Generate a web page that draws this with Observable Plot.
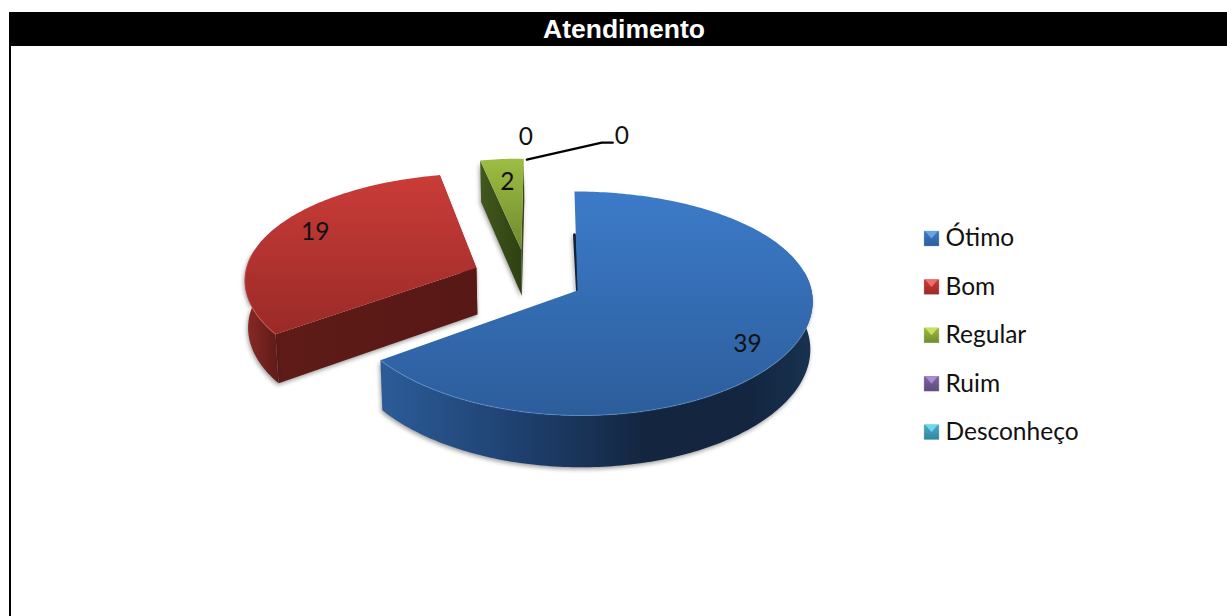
<!DOCTYPE html>
<html lang="pt">
<head>
<meta charset="utf-8">
<title>Atendimento</title>
<script src="https://cdn.jsdelivr.net/npm/d3@7"></script>
<script src="https://cdn.jsdelivr.net/npm/@observablehq/plot@0.6"></script>
<style>
  html, body { margin: 0; background: #fff; overflow: hidden; }
  #frame { margin: 12px 0 0 9px; width: 1218px; box-sizing: border-box; border-left: 2px solid #000; }
  #title { margin-left: -2px; height: 34px; background: #000; color: #fff; text-align: center;
           font: bold 26.5px/35px "Liberation Sans", Arial, sans-serif; padding-left: 12px; box-sizing: border-box; }
  svg { display: block; }
</style>
</head>
<body>
<div id="frame">
  <div id="title">Atendimento</div>
  <div id="chart"></div>
</div>
<script>
// Survey answers
const categories = ["Ótimo", "Bom", "Regular", "Ruim", "Desconheço"];
const values = [39, 19, 2, 0, 0];

// Face, wall and key colours per category
const faceStops = [["#3c7bc9", "#2c5d9b"], ["#ca3c38", "#9a2a27"], ["#9dbd42", "#6f8a2e"], ["#8064a2", "#5f4a7a"], ["#4bacc6", "#31859c"]];
const keyTips = ["#6ba3e0", "#ee6f6a", "#c8e060", "#a98bd0", "#6fd8ef"];

// Tilted disc: centre, radii and perspective strength
const centre = { x: 577, y: 290 };
const radius = { x: 234, y: 110.5 };
const perspective = { x: 0.085, y: 0.116 };
const thickness = 47.5;

// How each wedge is pulled out of the disc, and where its value label sits
const pull = [
  { u: 0, v: 0, lean: 3.4, labelR: 0.78, labelDx: 1, labelDy: 13 },
  { u: -0.44, v: -0.21, lean: 0, labelR: 0.72, labelDx: -12, labelDy: -9 },
  { u: -0.245, v: -0.385, lean: 2, labelR: 0.7, labelDx: 0, labelDy: -2 }
];

const FULL = d3.sum(values);
const rad = (deg) => (deg * Math.PI) / 180;

function project(u, v, lean, lower) {
  const sx = 1 / (1 - perspective.x * v);
  const sy = 1 / (1 - perspective.y * v);
  let x = centre.x + radius.x * u * sx + lean * v * sy;
  let y = centre.y + radius.y * v * sy;
  if (lower) {
    x = centre.x + (x - centre.x) * 0.99;
    y += thickness * (1 + 0.09 * v);
  }
  return { x, y };
}

// Point on a wedge at a clock angle (0 = twelve o'clock) and radial fraction
function wedgePoint(p, deg, r, lower = false) {
  return project(p.u + r * Math.sin(rad(deg)), p.v - r * Math.cos(rad(deg)), p.lean, lower);
}

function arc(p, from, to, lower = false) {
  const pts = [];
  const n = Math.max(2, Math.ceil(Math.abs(to - from)));
  for (let i = 0; i <= n; i++) pts.push(wedgePoint(p, from + ((to - from) * i) / n, 1, lower));
  return pts;
}

// Cumulative angles of the wedges
let running = 0;
const wedges = values.map((value, i) => {
  const a0 = (running / FULL) * 360;
  running += value;
  return { i, value, a0, a1: (running / FULL) * 360, p: pull[i] };
}).filter((d) => d.value > 0);

const face = (w) => [wedgePoint(w.p, 0, 0), ...arc(w.p, w.a0, w.a1)];
const edgeWall = (w, deg) => [wedgePoint(w.p, deg, 0), wedgePoint(w.p, deg, 1), wedgePoint(w.p, deg, 1, true), wedgePoint(w.p, deg, 0, true)];
const rimWall = (w) => {
  const from = Math.max(w.a0, 80), to = Math.min(w.a1, 280);
  return to > from ? [...arc(w.p, from, to), ...arc(w.p, to, from, true)] : null;
};

const xy = { x: "x", y: "y", curve: "linear-closed", stroke: "none" };
const shadow = "drop-shadow(-1px 2px 2px rgba(0,0,0,0.38))";

// Gradients shared by the faces, walls and key swatches
function gradients() {
  const defs = d3.create("svg:defs");
  const add = (id, horizontal, stops) => {
    const g = defs.append("linearGradient").attr("id", id)
      .attr("x1", 0).attr("y1", 0).attr("x2", horizontal ? 1 : 0).attr("y2", horizontal ? 0 : 1);
    stops.forEach(([o, c]) => g.append("stop").attr("offset", o).attr("stop-color", c));
  };
  faceStops.forEach((s, i) => add(`face${i}`, false, [[0, s[0]], [1, s[1]]]));
  add("rim0", true, [[0, "#2c5c98"], [0.3, "#1f4272"], [0.62, "#13253f"], [0.85, "#13253f"], [1, "#18324f"]]);
  add("rim1", true, [[0, "#8a2a26"], [1, "#5e1b18"]]);
  add("edge1", true, [[0, "#5e1b18"], [1, "#581815"]]);
  add("edge2", true, [[0, "#42581e"], [1, "#2e4012"]]);
  return defs.node();
}

const wedgeMarks = wedges.flatMap((w) => {
  const rim = rimWall(w);
  const marks = [];
  if (w.i === 0) {
    // Lower edge of the cut that peeks out beside the first wedge
    marks.push(Plot.line([wedgePoint(w.p, 0, 1, true), wedgePoint(w.p, 0, 0)], {
      x: "x", y: "y", stroke: "#12233c", strokeWidth: 3, imageFilter: shadow
    }));
  } else {
    marks.push(
      Plot.line(edgeWall(w, w.a1), { ...xy, fill: `url(#edge${w.i})`, imageFilter: shadow }),
      Plot.line(edgeWall(w, w.a0), { ...xy, fill: `url(#edge${w.i})`, imageFilter: shadow })
    );
  }
  if (rim) marks.push(Plot.line(rim, { ...xy, fill: `url(#rim${w.i})`, imageFilter: shadow }));
  marks.push(Plot.line(face(w), { ...xy, fill: `url(#face${w.i})` }));
  if (rim) {
    marks.push(Plot.line(arc(w.p, Math.max(w.a0, 110), Math.min(w.a1, 280)), {
      x: "x", y: "y", stroke: keyTips[w.i], strokeOpacity: 0.4, strokeWidth: 1.2
    }));
  }
  return marks;
});

// Value labels for the drawn wedges
const labelFont = { fontFamily: "Lato, sans-serif", fontSize: 24.5, fill: "#111" };
const wedgeLabels = wedges.map((w) => {
  const mid = (w.a0 + w.a1) / 2;
  const at = wedgePoint(w.p, mid, w.p.labelR);
  return { x: at.x + w.p.labelDx, y: at.y + w.p.labelDy, text: String(w.value) };
});

// Empty categories sit at the end of the pie, one of them on a leader line
const zeroAnchor = wedgePoint(pull[2], 360, 1);
const zeroValues = values.filter((v) => v === 0);
const leaderSteps = [[3, 1], [78, -16], [89, -16]];
const leader = leaderSteps.map(([dx, dy]) => ({ x: zeroAnchor.x + dx, y: zeroAnchor.y + dy }));
const zeroSteps = [[2, -21], [98, -22]];
const zeroLabels = zeroValues.map((v, i) => ({ x: zeroAnchor.x + zeroSteps[i][0], y: zeroAnchor.y + zeroSteps[i][1], text: String(v) }));

// Key on the right
const keyX = 931;
const keyY = (i) => 238 + i * 48.4;
const keyRows = categories.map((name, i) => ({ name, i, x: keyX, y: keyY(i) }));
const keyTip = (row) => [
  { x: row.x - 6.5, y: row.y - 7.5 },
  { x: row.x + 6.5, y: row.y - 7.5 },
  { x: row.x, y: row.y }
];

const keyMarks = keyRows.flatMap((row) => [
  Plot.dot([row], { x: "x", y: "y", symbol: "square", r: 8.6, fill: `url(#face${row.i})`, stroke: "#fff", strokeOpacity: 0.35, strokeWidth: 0.6 }),
  Plot.line(keyTip(row), { ...xy, fill: keyTips[row.i] })
]);

const chart = Plot.plot({
  width: 1216,
  height: 570,
  margin: 0,
  style: { background: "#fff", overflow: "visible" },
  x: { axis: null, domain: [11, 1227], range: [0, 1216] },
  y: { axis: null, domain: [46, 616], range: [0, 570] },
  marks: [
    gradients,
    ...wedgeMarks,
    Plot.line(leader, { x: "x", y: "y", stroke: "#000", strokeWidth: 2.2, curve: "linear" }),
    Plot.text([...wedgeLabels, ...zeroLabels], { x: "x", y: "y", text: "text", ...labelFont }),
    ...keyMarks,
    Plot.text(keyRows, { x: 945, y: "y", text: "name", textAnchor: "start", ...labelFont })
  ]
});
document.getElementById("chart").append(chart);
</script>
</body>
</html>
